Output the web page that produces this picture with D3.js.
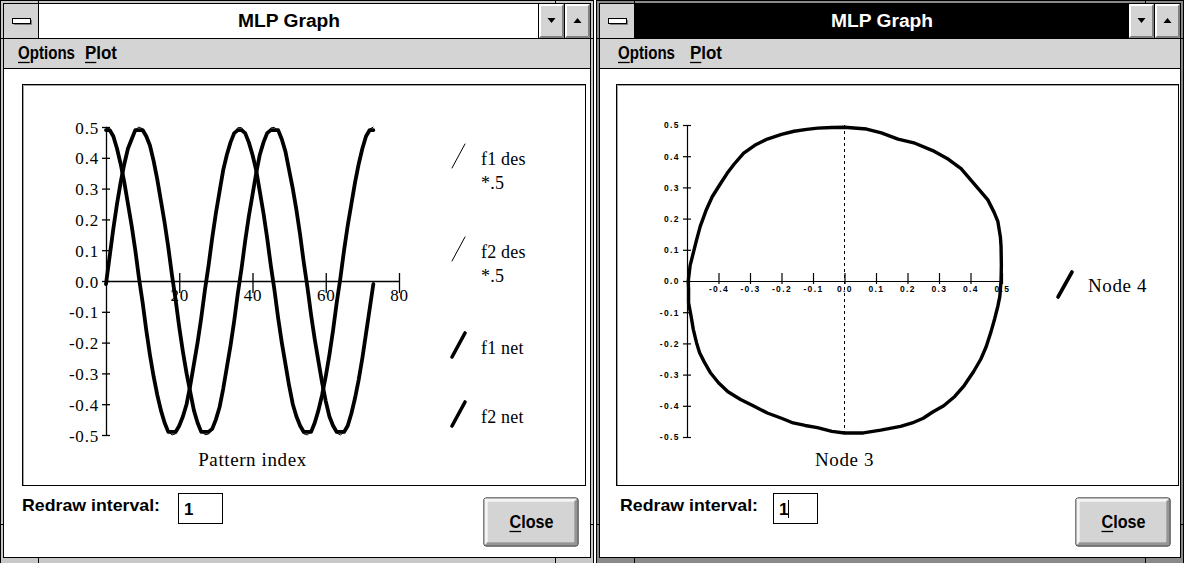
<!DOCTYPE html>
<html>
<head>
<meta charset="utf-8">
<script src="https://cdn.jsdelivr.net/npm/d3@7"></script>
<style>
  html, body { margin: 0; padding: 0; background: #fff; }
  svg { display: block; }
</style>
</head>
<body>
<svg id="screen" width="1184" height="563"></svg>
<script>
// ---- Training curves (pattern index 0..73) ----
const f1Des = [0.5,0.493,0.471,0.435,0.386,0.326,0.256,0.179,0.096,0.011,
  -0.075,-0.159,-0.237,-0.309,-0.372,-0.424,-0.463,-0.488,-0.5,-0.496,
  -0.477,-0.445,-0.399,-0.342,-0.274,-0.199,-0.117,-0.032,0.054,0.138,
  0.218,0.292,0.357,0.412,0.454,0.483,0.498,0.498,0.483,0.454,
  0.412,0.357,0.292,0.218,0.138,0.054,-0.032,-0.117,-0.199,-0.274,
  -0.342,-0.399,-0.445,-0.477,-0.496,-0.5,-0.488,-0.463,-0.424,-0.372,
  -0.309,-0.237,-0.159,-0.075,0.011,0.096,0.179,0.256,0.326,0.386,
  0.435,0.471,0.493,0.5];
const f2Des = [0,0.086,0.169,0.247,0.318,0.379,0.429,0.467,0.491,0.5,
  0.494,0.474,0.44,0.393,0.334,0.265,0.189,0.107,0.022,-0.064,
  -0.148,-0.228,-0.301,-0.365,-0.418,-0.459,-0.486,-0.499,-0.497,-0.481,
  -0.45,-0.406,-0.35,-0.284,-0.209,-0.128,-0.043,0.043,0.128,0.209,
  0.284,0.35,0.406,0.45,0.481,0.497,0.499,0.486,0.459,0.418,
  0.365,0.301,0.228,0.148,0.064,-0.022,-0.107,-0.189,-0.265,-0.334,
  -0.393,-0.44,-0.474,-0.494,-0.5,-0.491,-0.467,-0.429,-0.379,-0.318,
  -0.247,-0.169,-0.086,0];
const f1Net = [0.49,0.49,0.47,0.43,0.38,0.32,0.25,0.18,0.10,0.01,
  -0.07,-0.16,-0.24,-0.31,-0.37,-0.42,-0.46,-0.49,-0.49,-0.49,
  -0.47,-0.44,-0.40,-0.34,-0.27,-0.20,-0.12,-0.03,0.05,0.14,
  0.22,0.29,0.36,0.41,0.45,0.48,0.49,0.49,0.48,0.45,
  0.41,0.36,0.29,0.22,0.14,0.05,-0.03,-0.12,-0.20,-0.27,
  -0.34,-0.40,-0.44,-0.47,-0.49,-0.49,-0.49,-0.46,-0.42,-0.37,
  -0.31,-0.24,-0.16,-0.07,0.01,0.10,0.18,0.25,0.32,0.38,
  0.43,0.47,0.49,0.49];
const f2Net = [-0.01,0.08,0.17,0.25,0.32,0.38,0.43,0.46,0.49,0.49,
  0.49,0.47,0.44,0.39,0.33,0.26,0.19,0.11,0.02,-0.06,
  -0.15,-0.23,-0.30,-0.36,-0.42,-0.46,-0.49,-0.49,-0.49,-0.48,
  -0.45,-0.41,-0.35,-0.28,-0.21,-0.13,-0.04,0.04,0.13,0.21,
  0.28,0.35,0.41,0.45,0.48,0.49,0.49,0.49,0.46,0.42,
  0.36,0.30,0.23,0.15,0.06,-0.02,-0.11,-0.19,-0.26,-0.33,
  -0.39,-0.44,-0.47,-0.49,-0.49,-0.49,-0.47,-0.43,-0.38,-0.32,
  -0.25,-0.17,-0.09,-0.01];

const patternTicks = [20, 40, 60, 80];
const outputTicks = [0.5, 0.4, 0.3, 0.2, 0.1, 0.0, -0.1, -0.2, -0.3, -0.4, -0.5];
const legendEntries = [
  { lines: ["f1 des", "*.5"], thick: false },
  { lines: ["f2 des", "*.5"], thick: false },
  { lines: ["f1 net"], thick: true },
  { lines: ["f2 net"], thick: true }
];

// ---- Hidden-node phase plot: Node 3 (horizontal) vs Node 4 (vertical) ----
const node3 = [0.0,0.07,0.117,0.17,0.22,0.28,0.33,0.37,0.40,0.43,0.455,0.475,0.487,0.495,0.497,0.498,0.497,
  0.493,0.487,0.477,0.465,0.45,0.433,0.41,0.38,0.35,0.315,0.28,0.25,0.215,0.178,0.115,0.06,0.0,
  -0.04,-0.086,-0.125,-0.163,-0.2,-0.245,-0.29,-0.33,-0.37,-0.40,-0.425,-0.445,-0.46,-0.47,-0.48,-0.487,
  -0.495,-0.495,-0.496,-0.49,-0.48,-0.47,-0.458,-0.44,-0.42,-0.395,-0.372,-0.35,-0.32,-0.285,-0.245,
  -0.2,-0.16,-0.12,-0.085,-0.04,0.0];
const node4 = [0.493,0.487,0.475,0.455,0.443,0.418,0.39,0.36,0.325,0.29,0.26,0.22,0.19,0.14,0.11,0.05,0.0,
  -0.05,-0.08,-0.12,-0.163,-0.21,-0.25,-0.29,-0.335,-0.37,-0.40,-0.42,-0.44,-0.455,-0.466,-0.478,-0.487,-0.487,
  -0.482,-0.47,-0.463,-0.455,-0.44,-0.423,-0.40,-0.38,-0.355,-0.326,-0.295,-0.26,-0.23,-0.197,-0.155,-0.113,
  -0.07,-0.026,0.0,0.05,0.09,0.13,0.175,0.225,0.27,0.31,0.346,0.375,0.41,0.435,0.455,
  0.47,0.48,0.486,0.49,0.492,0.493];
const node3Ticks = [-0.4, -0.3, -0.2, -0.1, 0.0, 0.1, 0.2, 0.3, 0.4, 0.5];
const node4Ticks = [0.5, 0.4, 0.3, 0.2, 0.1, 0.0, -0.1, -0.2, -0.3, -0.4, -0.5];

const UI_FONT = "'Liberation Sans', Arial, Helvetica, sans-serif";
const PLOT_FONT = "'Liberation Serif', 'Times New Roman', serif";
const FACE = "#d4d4d4";

const svg = d3.select("#screen");

// Bold UI text, optionally squeezed to a fixed width, with the first letter underlined
function uiText(g, x, y, str, size, opts = {}) {
  const t = g.append("text")
    .attr("x", x).attr("y", y)
    .attr("font-family", UI_FONT).attr("font-size", size).attr("font-weight", "bold")
    .attr("fill", opts.fill || "#000").text(str);
  if (opts.len) t.attr("textLength", opts.len).attr("lengthAdjust", "spacingAndGlyphs");
  const total = opts.len || t.node().getComputedTextLength();
  let x0 = x;
  if (opts.anchor === "middle") { x0 = x - total / 2; t.attr("x", x0); }
  if (opts.underline) {
    const natural = t.node().getSubStringLength(0, 1);
    const scale = opts.len ? opts.len / t.node().getComputedTextLength() : 1;
    const w = opts.len && scale > 0 ? natural : natural;
    g.append("line").attr("x1", x0).attr("x2", x0 + w)
      .attr("y1", y + 3.5).attr("y2", y + 3.5).attr("stroke", "#000").attr("stroke-width", 1.3);
  }
  return t;
}

// Raised 3D face
function raised(g, x, y, w, h, d) {
  g.append("rect").attr("x", x).attr("y", y).attr("width", w).attr("height", h).attr("fill", FACE);
  for (let i = 0; i < d; i++) {
    g.append("path").attr("fill", "none").attr("stroke", "#fff")
      .attr("d", `M${x + i + 0.5},${y + h - i - 1}V${y + i + 0.5}H${x + w - i - 1}`);
    g.append("path").attr("fill", "none").attr("stroke", "#808080")
      .attr("d", `M${x + i + 0.5},${y + h - i - 0.5}H${x + w - i - 0.5}V${y + i + 0.5}`);
  }
}

function drawWindow(cfg) {
  const g = svg.append("g");
  const { x0, x1, active } = cfg;
  const W = x1 - x0;
  const band = active ? "#8a8a8a" : "#c8c8c8";
  // sizing frame
  g.append("rect").attr("x", x0 + 0.5).attr("y", 0.5).attr("width", W - 1).attr("height", 570)
    .attr("fill", band).attr("stroke", "#000");
  g.append("rect").attr("x", x0 + 3.5).attr("y", 3.5).attr("width", W - 7).attr("height", 554)
    .attr("fill", "#fff").attr("stroke", "#000");
  // resize corner marks
  const marks = g.append("g").attr("stroke", "#000").attr("stroke-width", 1);
  [38.5, 524.5].forEach(yy => {
    marks.append("line").attr("x1", x0).attr("x2", x0 + 4).attr("y1", yy).attr("y2", yy);
    marks.append("line").attr("x1", x1 - 4).attr("x2", x1).attr("y1", yy).attr("y2", yy);
  });
  [x0 + 38.5, x1 - 38.5].forEach(xx => {
    marks.append("line").attr("x1", xx).attr("x2", xx).attr("y1", 0).attr("y2", 4);
    marks.append("line").attr("x1", xx).attr("x2", xx).attr("y1", 557).attr("y2", 563);
  });

  // caption bar
  const tbL = x0 + 4, tbR = x1 - 4;
  g.append("rect").attr("x", tbL).attr("y", 4).attr("width", tbR - tbL).attr("height", 34)
    .attr("fill", active ? "#000" : "#fff");
  g.append("line").attr("x1", tbL).attr("x2", tbR).attr("y1", 38.5).attr("y2", 38.5).attr("stroke", "#000");
  // system menu box
  g.append("rect").attr("x", tbL).attr("y", 4).attr("width", 34).attr("height", 34).attr("fill", FACE);
  g.append("line").attr("x1", tbL + 34.5).attr("x2", tbL + 34.5).attr("y1", 4).attr("y2", 38).attr("stroke", "#000");
  g.append("rect").attr("x", tbL + 8.5).attr("y", 18.5).attr("width", 18).attr("height", 5)
    .attr("fill", "#fff").attr("stroke", "#000");
  g.append("path").attr("d", `M${tbL + 10},${24.5}H${tbL + 27.5}V${20}`).attr("stroke", "#808080").attr("fill", "none");
  // min / max buttons
  const bw = 25;
  const bMaxX = tbR - bw, bMinX = tbR - 2 * bw - 1;
  raised(g, bMinX, 4, bw, 34, 2);
  raised(g, bMaxX, 4, bw, 34, 2);
  g.append("line").attr("x1", bMinX - 0.5).attr("x2", bMinX - 0.5).attr("y1", 4).attr("y2", 38).attr("stroke", "#000");
  g.append("line").attr("x1", bMaxX - 0.5).attr("x2", bMaxX - 0.5).attr("y1", 4).attr("y2", 38).attr("stroke", "#000");
  const cxMin = bMinX + bw / 2, cxMax = bMaxX + bw / 2;
  g.append("path").attr("d", `M${cxMin - 4},18H${cxMin + 4}L${cxMin},23Z`).attr("fill", "#000");
  g.append("path").attr("d", `M${cxMax - 4},23H${cxMax + 4}L${cxMax},18Z`).attr("fill", "#000");
  // caption text
  uiText(g, (tbL + 35 + bMinX) / 2, 27, "MLP Graph", 18,
    { len: 102, anchor: "middle", fill: active ? "#fff" : "#000" });

  // menu bar
  g.append("rect").attr("x", tbL).attr("y", 39).attr("width", tbR - tbL).attr("height", 29).attr("fill", FACE);
  g.append("line").attr("x1", tbL).attr("x2", tbR).attr("y1", 68.5).attr("y2", 68.5).attr("stroke", "#000");
  uiText(g, cfg.optionsX, 59, "Options", 18, { len: 57, underline: true });
  uiText(g, cfg.plotX, 59, "Plot", 18, { len: 32, underline: true });

  // plot frame
  g.append("rect").attr("x", cfg.boxL + 0.5).attr("y", 84.5).attr("width", cfg.boxR - cfg.boxL).attr("height", 401)
    .attr("fill", "#fff").attr("stroke", "#000");
  g.append("path").attr("d", `M${cfg.boxL + 1.5},485V${85.5}H${cfg.boxR}`).attr("stroke", "#a0a0a0").attr("fill", "none");

  // redraw interval control
  uiText(g, cfg.redrawX, 511, "Redraw interval:", 17, { len: 138 });
  g.append("rect").attr("x", cfg.inputX + 0.5).attr("y", 493.5).attr("width", 44).attr("height", 30)
    .attr("fill", "#fff").attr("stroke", "#000");
  uiText(g, cfg.inputX + 6, 515, "1", 17);
  if (active) {
    g.append("line").attr("x1", cfg.inputX + 15.5).attr("x2", cfg.inputX + 15.5)
      .attr("y1", 500).attr("y2", 518).attr("stroke", "#000");
  }

  // Close push button
  const cb = { x: cfg.closeX, y: 497, w: 95, h: 49 };
  g.append("rect").attr("x", cb.x + 0.5).attr("y", cb.y + 0.5).attr("width", cb.w).attr("height", cb.h)
    .attr("rx", 3).attr("fill", "#000");
  raised(g, cb.x + 1.5, cb.y + 1.5, cb.w - 2, cb.h - 2, 3);
  uiText(g, cb.x + cb.w / 2 + 1, 528, "Close", 18, { len: 44, anchor: "middle", underline: true });
}

drawWindow({ x0: 0, x1: 594, active: false, optionsX: 18, plotX: 85, boxL: 22, boxR: 585,
  redrawX: 22, inputX: 178, closeX: 483 });
drawWindow({ x0: 596, x1: 1184, active: true, optionsX: 618, plotX: 690, boxL: 616, boxR: 1178,
  redrawX: 620, inputX: 773, closeX: 1075 });

// ---------- Left plot: desired vs network outputs ----------
const lx = d3.scaleLinear().domain([0, 80]).range([106, 399]);
const ly = d3.scaleLinear().domain([-0.5, 0.5]).range([435, 127]);
const gL = svg.append("g");

gL.append("g").attr("transform", `translate(${lx(0)},0)`)
  .call(d3.axisLeft(ly).tickValues(outputTicks).tickSizeInner(4).tickSizeOuter(0).tickPadding(3)
    .tickFormat(d => d.toFixed(1)))
  .call(a => {
    a.attr("font-family", PLOT_FONT).attr("font-size", 17);
    a.select(".domain").attr("stroke-width", 1.3);
    a.selectAll(".tick line").attr("x1", 4).attr("x2", -4).attr("stroke-width", 1.3);
    a.selectAll(".tick text").attr("x", -7).attr("letter-spacing", 0.8).attr("dy", "0.36em");
  });

gL.append("g").attr("transform", `translate(0,${ly(0)})`)
  .call(d3.axisBottom(lx).tickValues(patternTicks).tickSizeInner(12).tickSizeOuter(0).tickFormat(d => String(d)))
  .call(a => {
    a.attr("font-family", PLOT_FONT).attr("font-size", 17);
    a.select(".domain").attr("stroke-width", 1.3);
    a.selectAll(".tick line").attr("y1", -8).attr("y2", 12).attr("stroke-width", 1.3);
    a.selectAll(".tick text").attr("y", 8).attr("letter-spacing", 0.8);
  });

const outLine = d3.line().x((d, i) => lx(i)).y(d => ly(d));
[f1Des, f2Des].forEach(s => gL.append("path").attr("d", outLine(s))
  .attr("fill", "none").attr("stroke", "#000").attr("stroke-width", 1));
[f1Net, f2Net].forEach(s => gL.append("path").attr("d", outLine(s))
  .attr("fill", "none").attr("stroke", "#000").attr("stroke-width", 3.8)
  .attr("stroke-linejoin", "round").attr("stroke-linecap", "round"));

gL.append("text").attr("x", lx(40)).attr("y", 466).attr("text-anchor", "middle")
  .attr("font-family", PLOT_FONT).attr("font-size", 19).attr("letter-spacing", 0.6).text("Pattern index");

// legend
const legendBase = [165, 258, 354, 423];
legendEntries.forEach((e, k) => {
  const yb = legendBase[k];
  gL.append("line").attr("x1", 452).attr("y1", yb + 3).attr("x2", 465).attr("y2", yb - 21)
    .attr("stroke", "#000").attr("stroke-width", e.thick ? 3.6 : 1).attr("stroke-linecap", "round");
  e.lines.forEach((s, j) => gL.append("text").attr("x", 481).attr("y", yb + j * 24)
    .attr("font-family", PLOT_FONT).attr("font-size", 18).attr("letter-spacing", 0.2).text(s));
});

// ---------- Right plot: Node 3 vs Node 4 ----------
const rx = d3.scaleLinear().domain([-0.5, 0.5]).range([687, 1002]);
const ry = d3.scaleLinear().domain([-0.5, 0.5]).range([437, 125]);
const gR = svg.append("g");

gR.append("g").attr("transform", `translate(${rx(-0.5)},0)`)
  .call(d3.axisLeft(ry).tickValues(node4Ticks).tickSizeInner(4).tickSizeOuter(0).tickPadding(3)
    .tickFormat(d => d.toFixed(1)))
  .call(a => {
    a.attr("font-family", UI_FONT).attr("font-size", 8.5).attr("font-weight", "bold");
    a.select(".domain").attr("stroke-width", 1.2);
    a.selectAll(".tick line").attr("x1", 4).attr("x2", -4).attr("stroke-width", 1.2);
    a.selectAll(".tick text").attr("x", -7).attr("letter-spacing", 1.4).attr("dy", "0.35em");
  });

gR.append("g").attr("transform", `translate(0,${ry(0)})`)
  .call(d3.axisBottom(rx).tickValues(node3Ticks).tickSizeInner(3).tickSizeOuter(0).tickFormat(d => d.toFixed(1)))
  .call(a => {
    a.attr("font-family", UI_FONT).attr("font-size", 8.5).attr("font-weight", "bold");
    a.select(".domain").attr("stroke-width", 1.2);
    a.selectAll(".tick line").attr("y1", -8).attr("y2", 3).attr("stroke-width", 1.2);
    a.selectAll(".tick text").attr("y", 5).attr("letter-spacing", 1.4);
  });

gR.append("line").attr("x1", rx(0)).attr("x2", rx(0)).attr("y1", ry(0.5)).attr("y2", ry(-0.5))
  .attr("stroke", "#000").attr("stroke-dasharray", "3,3");

const phaseLine = d3.line().x((d, i) => rx(node3[i])).y((d, i) => ry(node4[i]));
gR.append("path").attr("d", phaseLine(node3)).attr("fill", "none").attr("stroke", "#000")
  .attr("stroke-width", 3.4).attr("stroke-linejoin", "round");

gR.append("text").attr("x", rx(0)).attr("y", 466).attr("text-anchor", "middle")
  .attr("font-family", PLOT_FONT).attr("font-size", 19).attr("letter-spacing", 0.6).text("Node 3");
gR.append("line").attr("x1", 1058).attr("y1", 297).attr("x2", 1072).attr("y2", 272)
  .attr("stroke", "#000").attr("stroke-width", 3.6).attr("stroke-linecap", "round");
gR.append("text").attr("x", 1088).attr("y", 292)
  .attr("font-family", PLOT_FONT).attr("font-size", 19).attr("letter-spacing", 0.6).text("Node 4");
</script>
</body>
</html>
